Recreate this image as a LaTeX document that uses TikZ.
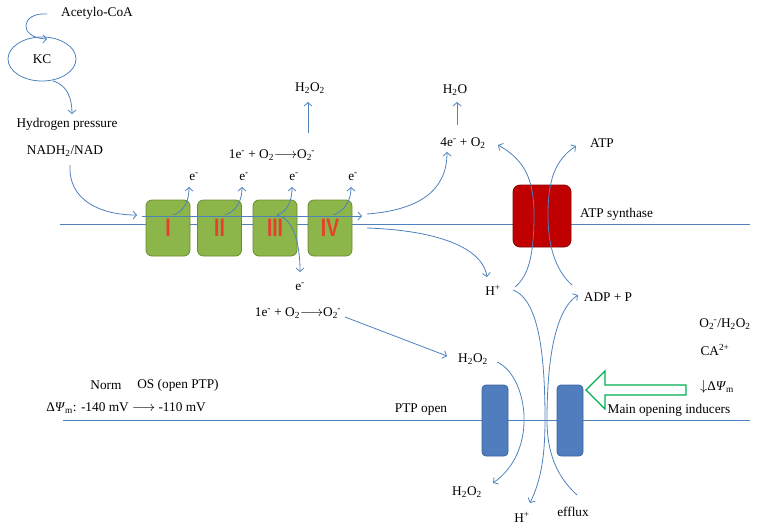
\documentclass[tikz,border=0pt]{standalone}
\usepackage{fontspec}
\usepackage{graphicx}
\setmainfont{Liberation Serif}
\newfontfamily\numfont{Liberation Sans Bold}
\usetikzlibrary{arrows.meta,shapes.geometric}
\definecolor{lineblue}{RGB}{79,129,189}
\definecolor{gfill}{RGB}{140,181,74}
\definecolor{gdraw}{RGB}{104,140,50}
\definecolor{numred}{RGB}{232,62,45}
\definecolor{rfill}{RGB}{192,0,0}
\definecolor{rdraw}{RGB}{140,0,0}
\definecolor{pfill}{RGB}{79,125,190}
\definecolor{pdraw}{RGB}{60,100,160}
\definecolor{arrgreen}{RGB}{0,176,80}
\newcommand{\rnum}[1]{\scalebox{0.8}[1.05]{#1}}
\newcommand{\ssb}[2]{\textsubscript{#1}\kern-0.5pt\textsuperscript{#2}}
\begin{document}
\begin{tikzpicture}[x=1pt,y=-1pt,
  lbl/.style={font=\fontsize{13.3}{16}\selectfont, inner sep=0pt},
  conn/.style={draw=lineblue, line width=0.8pt, -{Straight Barb[length=3.5pt,width=8pt]}},
  memb/.style={draw=lineblue, line width=0.8pt},
  gbox/.style={draw=gdraw, fill=gfill, line width=0.8pt, rounded corners=6pt, minimum width=44pt, minimum height=56pt, inner sep=0pt, text=numred, font=\numfont\fontsize{24}{24}\selectfont},
  rbox/.style={draw=rdraw, fill=rfill, line width=0.8pt, rounded corners=7pt, minimum width=58pt, minimum height=62pt, inner sep=0pt},
  pbox/.style={draw=pdraw, fill=pfill, line width=0.8pt, rounded corners=4pt, minimum width=26pt, minimum height=71pt, inner sep=0pt}
]
\useasboundingbox (0,0) rectangle (762,531);
% membranes
\coordinate (m1l) at (60,224); \coordinate (m1r) at (750,224);
\coordinate (m2l) at (63,420); \coordinate (m2r) at (750,420);
\draw[memb] (m1l) -- (m1r);
\draw[memb] (m2l) -- (m2r);
% complexes
\node[gbox] (c1) at (168,228) {\rnum{I}};
\node[gbox] (c2) at (219.5,228) {\rnum{II}};
\node[gbox] (c3) at (275,228) {\rnum{III}};
\node[gbox] (c4) at (330,228) {\rnum{IV}};
\node[rbox] (atps) at (542,216) {};
\node[pbox] (p1) at (495,420.5) {};
\node[pbox] (p2) at (570,420.5) {};
% texts
\node[lbl] (acoa) at (97,13) {Acetylo-CoA};
\node[lbl, draw=lineblue, line width=0.8pt, ellipse, minimum width=68pt, minimum height=44pt] (kc) at (42,59) {KC};
\node[lbl] (hp) at (67,124) {Hydrogen pressure};
\node[lbl] (nadh) at (65,151) {NADH\textsubscript{2}/NAD};
\node[lbl] (eq1) at (272,155) {1e\textsuperscript{-} + O\textsubscript{2}$\longrightarrow$O\ssb{2}{-}};
\node[lbl] (h2o2a) at (310,88) {H\textsubscript{2}O\textsubscript{2}};
\node[lbl] (e1) at (194,177) {e\textsuperscript{-}};
\node[lbl] (e2) at (244,177) {e\textsuperscript{-}};
\node[lbl] (e3) at (294,177) {e\textsuperscript{-}};
\node[lbl] (e4) at (353,177) {e\textsuperscript{-}};
\node[lbl] (e5) at (300,287) {e\textsuperscript{-}};
\node[lbl] (eq2) at (298,313) {1e\textsuperscript{-} + O\textsubscript{2}$\longrightarrow$O\ssb{2}{-}};
\node[lbl] (h2o) at (455,90) {H\textsubscript{2}O};
\node[lbl] (o2) at (463,143) {4e\textsuperscript{-} + O\textsubscript{2}};
\node[lbl] (atp) at (602,143) {ATP};
\node[lbl, anchor=west] (atpsl) at (580,214) {ATP synthase};
\node[lbl] (hp1) at (493,290) {H\textsuperscript{+}};
\node[lbl] (adp) at (608,297) {ADP + P};
\node[lbl] (ind1) at (725,324) {O\ssb{2}{-}/H\textsubscript{2}O\textsubscript{2}};
\node[lbl] (ind2) at (715,350) {CA\textsuperscript{2+}};
\node[lbl] (ind3) at (717,387) {$\downarrow$Δ\textit{Ψ}\textsubscript{m}};
\node[lbl] (moi) at (669,410) {Main opening inducers};
\node[lbl] (ptpo) at (421,410) {PTP open};
\node[lbl] (h2o2b) at (473,359) {H\textsubscript{2}O\textsubscript{2}};
\node[lbl] (h2o2c) at (467,492) {H\textsubscript{2}O\textsubscript{2}};
\node[lbl] (hp2) at (522,517) {H\textsuperscript{+}};
\node[lbl] (eff) at (573,512) {efflux};
\node[lbl] (norm) at (106,385) {Norm};
\node[lbl] (os) at (178,385) {OS (open PTP)};
\node[lbl] (dpsi) at (126,408) {Δ\textit{Ψ}\textsubscript{m}: -140 mV $\longrightarrow$ -110 mV};
% connectors
\coordinate (a0) at (47,14); \coordinate (a1) at (47,39);
\draw[conn] (a0) .. controls (20,12) and (18,38) .. (a1);
\coordinate (k0) at (53,81); \coordinate (k1) at (72,114);
\draw[conn] (k0) .. controls (68,85) and (72,100) .. (k1);
\coordinate (n0) at (70,165); \coordinate (n1) at (137,215);
\draw[conn] (n0) .. controls (68,200) and (100,215) .. (n1);
\coordinate (f0) at (142,216); \coordinate (f1) at (362,216);
\draw[conn] (f0) -- (f1);
\draw[conn] (173,215) .. controls (185,211) and (189,200) .. (189,187);
\draw[conn] (225,215) .. controls (237,211) and (242,200) .. (242,187);
\draw[conn] (277,215) .. controls (288,211) and (292,200) .. (292,187);
\draw[conn] (333,215) .. controls (345,211) and (351,200) .. (351,187);
\draw[conn] (277,215) .. controls (292,218) and (300,240) .. (300,272);
\draw[conn] (308,133) -- (308,102);
\draw[conn] (457,125) -- (457,102);
\draw[conn] (367,214) .. controls (420,210) and (447,190) .. (447,152);
\draw[conn] (367,228) .. controls (430,230) and (482,245) .. (487,277);
\draw[conn] (345,317) -- (447,356);
\draw[conn] (515,287) .. controls (530,275) and (534,250) .. (534,215) .. controls (534,180) and (525,160) .. (498,145);
\draw[conn] (572,285) .. controls (555,270) and (548,245) .. (548,215) .. controls (548,180) and (555,160) .. (576,146);
\draw[conn] (513,290) .. controls (540,300) and (545,360) .. (545,420) .. controls (545,460) and (540,482) .. (530,503);
\draw[conn] (577,495) .. controls (555,475) and (547,450) .. (547,420) .. controls (547,360) and (555,310) .. (578,295);
\draw[conn] (497,362) .. controls (527,375) and (540,450) .. (493,483);
% inducer arrow
\draw[arrgreen, line width=1.2pt, fill=white] (586,390) -- (605,371) -- (605,385) -- (686,385) -- (686,395) -- (605,395) -- (605,409) -- cycle;
\end{tikzpicture}
\end{document}
